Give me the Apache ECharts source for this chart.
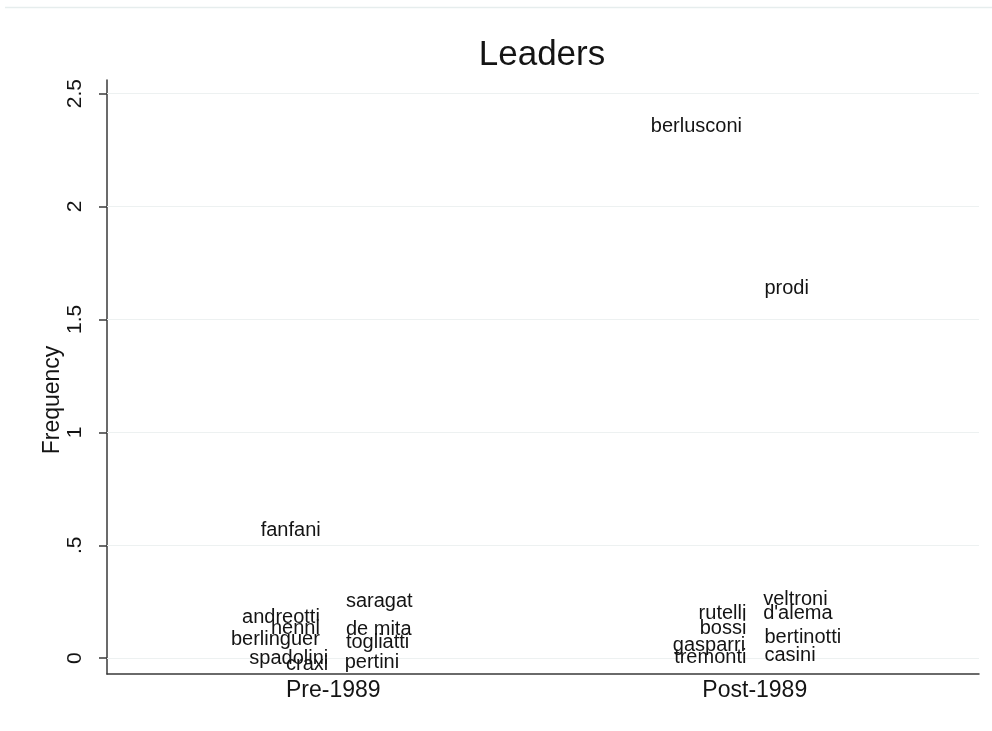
<!DOCTYPE html>
<html>
<head>
<meta charset="utf-8">
<script src="https://cdn.jsdelivr.net/npm/echarts@6/dist/echarts.min.js"></script>
<style>
  html, body { margin: 0; padding: 0; background: #fff; }
  #main { width: 992px; height: 731px; }
</style>
</head>
<body>
<div id="main"></div>
<script>
// periods on the x axis (1 = Pre-1989, 2 = Post-1989)
var periodValues = [1, 2];
var periodLabels = ['Pre-1989', 'Post-1989'];

// y ticks (Stata style ".5")
var yTickValues = [0, 0.5, 1, 1.5, 2, 2.5];
var yTickLabels = ['0', '.5', '1', '1.5', '2', '2.5'];

// leaders, their (jittered) period position, frequency and label side
var leaderNames = ['fanfani', 'andreotti', 'nenni', 'berlinguer', 'spadolini', 'craxi',
                   'saragat', 'de mita', 'togliatti', 'pertini',
                   'berlusconi', 'prodi', 'rutelli', 'bossi', 'gasparri', 'tremonti',
                   'veltroni', "d'alema", 'bertinotti', 'casini'];
var leaderX = [0.995, 0.993, 0.993, 0.993, 1.013, 1.013,
               1.005, 1.005, 1.005, 1.002,
               1.9945, 1.998, 2.005, 2.005, 2.002, 2.005,
               1.995, 1.995, 1.998, 1.998];
var leaderFreq = [0.565, 0.182, 0.130, 0.082, -0.003, -0.028,
                  0.249, 0.126, 0.071, -0.017,
                  2.352, 1.637, 0.197, 0.130, 0.056, 0.005,
                  0.259, 0.197, 0.093, 0.012];
var labelSide = ['left', 'left', 'left', 'left', 'left', 'left',
                 'right', 'right', 'right', 'right',
                 'left', 'right', 'left', 'left', 'left', 'left',
                 'right', 'right', 'right', 'right'];

var FONT = '"Liberation Sans", Arial, sans-serif';
var TXT = '#141414';

var chart = echarts.init(document.getElementById('main'));

var points = [];
for (var i = 0; i < leaderNames.length; i++) {
	points.push({
		name: leaderNames[i],
		value: [leaderX[i], leaderFreq[i]],
		label: { position: labelSide[i] }
	});
}

var option = {
	animation: false,
	backgroundColor: '#ffffff',
	title: {
		text: 'Leaders',
		left: 537,
		textAlign: 'center',
		top: 33,
		textStyle: { fontFamily: FONT, fontSize: 35, fontWeight: 'normal', color: TXT }
	},
	grid: { left: 107, right: 13, top: 80, bottom: 57 },
	xAxis: {
		type: 'value',
		min: 0.463,
		max: 2.532,
		axisLine: { onZero: false, lineStyle: { color: '#3a3a3a', width: 1.5 } },
		axisTick: { show: false },
		splitLine: { show: false },
		axisLabel: {
			customValues: periodValues,
			margin: 5,
			fontFamily: FONT,
			fontSize: 23,
			color: TXT,
			formatter: function(v) {
				var k = periodValues.indexOf(Math.round(v));
				return k >= 0 ? periodLabels[k] : '';
			}
		}
	},
	yAxis: {
		type: 'value',
		min: -0.07,
		max: 2.56,
		name: 'Frequency',
		nameLocation: 'middle',
		nameRotate: 90,
		nameGap: 43,
		nameMoveOverlap: false,
		nameTextStyle: { fontFamily: FONT, fontSize: 23, color: TXT, padding: [0, 46, 0, 0] },
		axisLine: { onZero: false, lineStyle: { color: '#3a3a3a', width: 1.5 } },
		axisTick: { show: true, customValues: yTickValues, length: 8, lineStyle: { color: '#3a3a3a', width: 1.5 } },
		splitLine: { show: false },
		axisLabel: {
			customValues: yTickValues,
			rotate: 90,
			margin: 21,
			fontFamily: FONT,
			fontSize: 21,
			color: TXT,
			formatter: function(v) {
				for (var j = 0; j < yTickValues.length; j++) {
					if (Math.abs(yTickValues[j] - v) < 1e-6) return yTickLabels[j];
				}
				return '';
			}
		}
	},
	graphic: [{
		type: 'line',
		shape: { x1: 5, y1: 7.5, x2: 992, y2: 7.5 },
		style: { stroke: '#e6eded', lineWidth: 1.5 },
		silent: true
	}],
	series: [{
		type: 'scatter',
		symbolSize: 1,
		itemStyle: { color: 'rgba(0,0,0,0)' },
		data: points,
		label: {
			show: true,
			formatter: '{b}',
			distance: 10,
			fontFamily: FONT,
			fontSize: 20,
			color: TXT,
			opacity: 1,
			textBorderWidth: 0
		},
		emphasis: { disabled: true },
		markLine: {
			silent: true,
			symbol: ['none', 'none'],
			label: { show: false },
			lineStyle: { color: '#edf1f1', width: 1, type: 'solid' },
			data: yTickValues.map(function(v) { return { yAxis: v }; }),
			z: 1
		}
	}]
};

chart.setOption(option);
</script>
</body>
</html>
